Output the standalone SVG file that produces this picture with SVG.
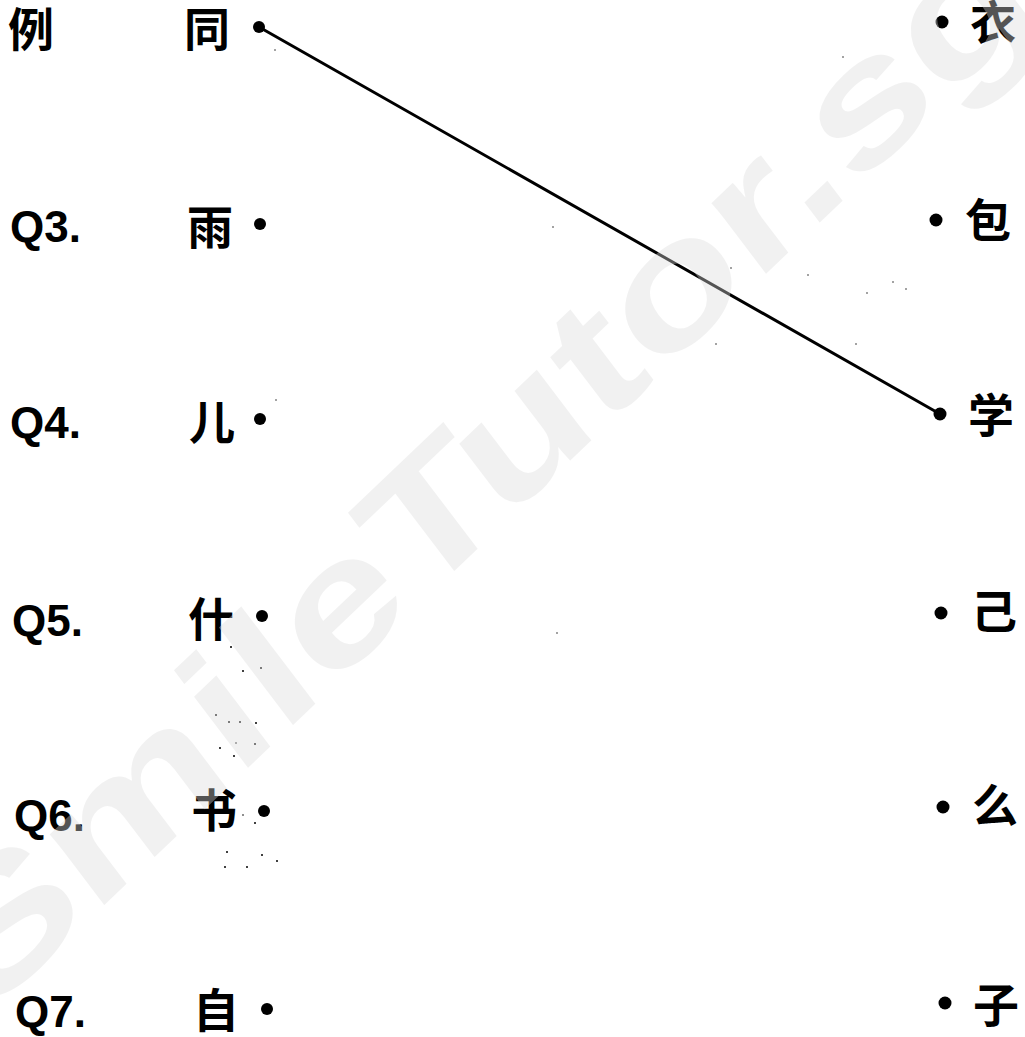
<svg xmlns="http://www.w3.org/2000/svg" width="1025" height="1037" viewBox="0 0 1025 1037">
<style>
.q{font-family:"Liberation Sans",Arial,sans-serif;font-weight:bold;font-size:44px;fill:#000}
.c{font-family:"Noto Sans CJK SC","Noto Sans CJK TC",sans-serif;font-weight:bold;font-size:46px;fill:#000;text-anchor:middle}
.d{fill:#000}
.n{fill:#000}
.wm{font-family:"Liberation Sans",Arial,sans-serif;font-weight:bold;font-size:160px;fill:#dcdcdc;opacity:0.38}
</style>
<rect width="1025" height="1037" fill="#fff"/>
<g id="labels">
<text class="c" x="31" y="46">例</text>
<text class="q" x="10" y="242">Q3.</text>
<text class="q" x="10" y="438">Q4.</text>
<text class="q" x="12" y="636">Q5.</text>
<text class="q" x="14" y="831">Q6.</text>
<text class="q" x="15" y="1027">Q7.</text>
</g>
<g id="connectors">
<line x1="259" y1="27" x2="940" y2="414" stroke="#000" stroke-width="3" stroke-linecap="round"/>
</g>
<g id="node-tong"><text class="c" x="207" y="46">同</text><circle class="d" cx="259" cy="27" r="6"/></g>
<g id="node-yu"><text class="c" x="210" y="244">雨</text><circle class="d" cx="260" cy="224" r="6"/></g>
<g id="node-er"><text class="c" x="212" y="439">儿</text><circle class="d" cx="260" cy="419" r="6"/></g>
<g id="node-shen"><text class="c" x="211" y="636">什</text><circle class="d" cx="262" cy="616" r="6"/></g>
<g id="node-shu"><text class="c" x="214" y="827">书</text><circle class="d" cx="264" cy="811" r="6"/></g>
<g id="node-zi"><text class="c" x="216" y="1027">自</text><circle class="d" cx="267" cy="1009" r="6"/></g>
<g id="node-yi"><circle class="d" cx="942" cy="22" r="6.5"/><text class="c" x="993" y="39">衣</text></g>
<g id="node-bao"><circle class="d" cx="936" cy="220" r="6.5"/><text class="c" x="988" y="237">包</text></g>
<g id="node-xue"><circle class="d" cx="940" cy="414" r="6.5"/><text class="c" x="991" y="432">学</text></g>
<g id="node-ji"><circle class="d" cx="941" cy="613" r="6.5"/><text class="c" x="994" y="628">己</text></g>
<g id="node-me"><circle class="d" cx="943" cy="807" r="6.5"/><text class="c" x="995" y="822">么</text></g>
<g id="node-zi2"><circle class="d" cx="945" cy="1003" r="6.5"/><text class="c" x="996" y="1022">子</text></g>
<g id="specks">
<circle class="n" cx="231" cy="647" r="1"/><circle class="n" cx="243" cy="671" r="1"/><circle class="n" cx="261" cy="668" r="1"/>
<circle class="n" cx="216" cy="715" r="1"/><circle class="n" cx="229" cy="722" r="1"/><circle class="n" cx="240" cy="722" r="1"/>
<circle class="n" cx="256" cy="723" r="1"/><circle class="n" cx="236" cy="743" r="0.8"/><circle class="n" cx="255" cy="744" r="1"/>
<circle class="n" cx="220" cy="748" r="1"/><circle class="n" cx="234" cy="756" r="1"/><circle class="n" cx="243" cy="815" r="0.8"/>
<circle class="n" cx="255" cy="823" r="1"/><circle class="n" cx="227" cy="852" r="1"/><circle class="n" cx="262" cy="855" r="1"/>
<circle class="n" cx="277" cy="861" r="1"/><circle class="n" cx="225" cy="867" r="1"/><circle class="n" cx="247" cy="867" r="1"/>
<circle class="n" cx="843" cy="57" r="0.7"/><circle class="n" cx="553" cy="227" r="0.7"/><circle class="n" cx="731" cy="268" r="0.7"/>
<circle class="n" cx="808" cy="275" r="0.7"/><circle class="n" cx="867" cy="293" r="0.7"/><circle class="n" cx="893" cy="282" r="0.7"/>
<circle class="n" cx="906" cy="289" r="0.7"/><circle class="n" cx="856" cy="344" r="0.7"/><circle class="n" cx="716" cy="344" r="0.7"/>
<circle class="n" cx="557" cy="633" r="0.7"/><circle class="n" cx="275" cy="50" r="0.7"/><circle class="n" cx="276" cy="400" r="0.7"/>
</g>
<text class="wm" transform="matrix(1.011 -0.964 0.639 0.841 -15 1018.6)" x="0" y="0">SmileTutor.sg</text>
</svg>
